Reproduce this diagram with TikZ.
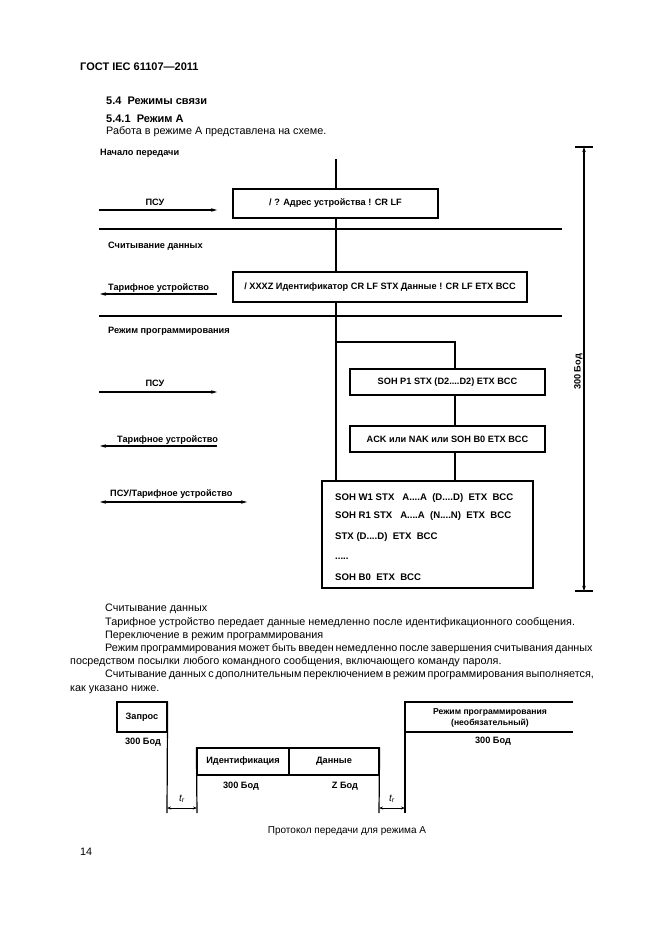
\documentclass[tikz,border=0pt]{standalone}
\usepackage{fontspec}
\setmainfont{Liberation Sans}
\usetikzlibrary{arrows.meta}
\newcommand{\dfont}{\fontsize{9.2}{11}\selectfont\bfseries}
\begin{document}
\begin{tikzpicture}[x=1pt,y=-1pt,
  thick line/.style={line width=1.6pt},
  thin line/.style={line width=1.2pt},
  msgbox/.style={draw,line width=1.6pt,fill=white,inner sep=0pt,font=\dfont},
  lbl/.style={inner sep=0pt,font=\dfont},
  body/.style={inner sep=0pt,anchor=base west,font=\fontsize{10.8}{13}\selectfont},
  head/.style={inner sep=0pt,anchor=base west,font=\fontsize{11}{13}\selectfont\bfseries},
  tip/.style={-{Stealth[length=6pt,width=3.5pt]}},
  tips/.style={{Stealth[length=6pt,width=3.5pt]}-{Stealth[length=6pt,width=3.5pt]}},
  smalltips/.style={{Stealth[length=4pt,width=3pt]}-{Stealth[length=4pt,width=3pt]}},
  tbox/.style={draw,line width=1.2pt,inner sep=0pt,font=\dfont}
]
\useasboundingbox (0,0) rectangle (661,935);

% ---------- header texts ----------
\node[head] (gost) at (80,70) {ГОСТ IEC 61107—2011};
\node[head] (h54) at (106,104) {5.4\ \ Режимы связи};
\node[head] (h541) at (106,122) {5.4.1\ \ Режим А};
\node[body] (intro) at (106,134) {Работа в режиме А представлена на схеме.};
\node[lbl,anchor=base west] (start) at (100,155) {Начало передачи};

% ---------- main structure lines (under the boxes) ----------
\coordinate (top) at (336,159);
\coordinate (branch) at (336,342);
\coordinate (branchR) at (455,342);
\coordinate (b5top) at (336,481);
\coordinate (b5topR) at (455,481);
\draw[thick line] (top) -- (b5top);
\draw[thick line] (branch) -- (branchR) -- (b5topR);

% separators
\coordinate (s1L) at (99,229); \coordinate (s1R) at (562,229);
\coordinate (s2L) at (99,316); \coordinate (s2R) at (562,316);
\draw[thick line] (s1L) -- (s1R);
\draw[thick line] (s2L) -- (s2R);

% ---------- boxes ----------
\node[msgbox,minimum width=205pt,minimum height=29pt] (box1) at (335.5,203.5) {/ ? Адрес устройства ! CR LF};
\node[msgbox,minimum width=294pt,minimum height=30pt] (box2) at (380,287) {/ XXXZ Идентификатор CR LF STX Данные ! CR LF ETX BCC};
\node[msgbox,minimum width=195pt,minimum height=26pt] (box3) at (447.5,382) {SOH P1 STX (D2....D2) ETX BCC};
\node[msgbox,minimum width=195pt,minimum height=26pt] (box4) at (447.5,439) {ACK или NAK или SOH B0 ETX BCC};
\node[msgbox,minimum width=211pt,minimum height=107pt] (box5) at (427.5,534.5) {};
\begin{scope}[every node/.style={inner sep=0pt,anchor=base west,font=\fontsize{9.6}{11}\selectfont\bfseries}]
\node (l1) at (335,500) {SOH W1 STX\ \ \ A....A\ \ (D....D)\ \ ETX\ \ BCC};
\node (l2) at (335,518) {SOH R1 STX\ \ \ A....A\ \ (N....N)\ \ ETX\ \ BCC};
\node (l3) at (335,539) {STX (D....D)\ \ ETX\ \ BCC};
\node (l4) at (335,559) {.....};
\node (l5) at (335,580) {SOH B0\ \ ETX\ \ BCC};
\end{scope}

% ---------- left side arrows ----------
\coordinate (a1s) at (99,210); \coordinate (a1e) at (217,210);
\draw[thick line,tip] (a1s) -- (a1e);
\node[lbl,anchor=base] (psu1) at (155,205) {ПСУ};

\node[lbl,anchor=base west] (read1) at (108,248) {Считывание данных};

\coordinate (a2s) at (217,294); \coordinate (a2e) at (100,294);
\draw[thick line,tip] (a2s) -- (a2e);
\node[lbl,anchor=base west] (tar1) at (108,290) {Тарифное устройство};

\node[lbl,anchor=base west] (prog1) at (108,333) {Режим программирования};

\coordinate (a3s) at (99,392); \coordinate (a3e) at (217,392);
\draw[thick line,tip] (a3s) -- (a3e);
\node[lbl,anchor=base] (psu2) at (155,386) {ПСУ};

\coordinate (a4s) at (217,446); \coordinate (a4e) at (100,446);
\draw[thick line,tip] (a4s) -- (a4e);
\node[lbl,anchor=base west] (tar2) at (117,442) {Тарифное устройство};

\coordinate (a5s) at (100,502); \coordinate (a5e) at (247,502);
\draw[thick line,tips] (a5s) -- (a5e);
\node[lbl,anchor=base west] (both) at (110,496) {ПСУ/Тарифное устройство};

% ---------- 300 Bod vertical ----------
\coordinate (vt) at (584,147); \coordinate (vb) at (584,591);
\draw[thick line,{Stealth[length=5pt,width=3.5pt]}-{Stealth[length=5pt,width=3.5pt]}] (vt) -- (vb);
\draw[thick line] ([xshift=-9pt]vt) -- ([xshift=9pt]vt);
\draw[thick line] ([xshift=-9pt]vb) -- ([xshift=9pt]vb);
\node[lbl,rotate=90,anchor=base] (bod) at (580.5,372) {300 Бод};

% ---------- paragraph ----------
\node[body] (p1) at (105,611.5) {Считывание данных};
\node[body] (p2) at (105,625) {Тарифное устройство передает данные немедленно после идентификационного сообщения.};
\node[body] (p3) at (105,638) {Переключение в режим программирования};
\node[body] (p4) at (105,651) {\makebox[487pt][s]{Режим программирования может быть введен немедленно после завершения считывания данных}};
\node[body] (p5) at (70,664.5) {посредством посылки любого командного сообщения, включающего команду пароля.};
\node[body] (p6) at (105,677.5) {\makebox[487pt][s]{Считывание данных с дополнительным переключением в режим программирования выполняется,}};
\node[body] (p7) at (70,691) {как указано ниже.};

% ---------- protocol diagram ----------
\node[tbox,minimum width=50pt,minimum height=30pt] (req) at (142,717) {Запрос};
\coordinate (reqB) at (167,813);
\draw[thin line] (req.north east) -- (reqB);
\node[lbl,anchor=center] (bodA) at (143,742) {300 Бод};

\node[tbox,minimum width=92pt,minimum height=27pt] (ident) at (243,761.5) {Идентификация};
\node[tbox,minimum width=90pt,minimum height=27pt] (data) at (334,761.5) {Данные};
\coordinate (identB) at (197,813);
\coordinate (dataB) at (379,813);
\draw[thin line] (ident.north west) -- (identB);
\draw[thin line] (data.north east) -- (dataB);
\node[lbl,anchor=center] (bodB) at (241,786) {300 Бод};
\node[lbl,anchor=center] (bodZ) at (345,786) {Z Бод};

\coordinate (pTL) at (405,702); \coordinate (pTR) at (573,702);
\coordinate (pML) at (405,732); \coordinate (pMR) at (573,732);
\coordinate (pB) at (405,813);
\draw[thin line] (pTR) -- (pTL) -- (pB);
\draw[thin line] (pML) -- (pMR);
\node[lbl,anchor=center,align=center,font=\fontsize{8.6}{10.5}\selectfont\bfseries] (progm) at (490,718) {Режим программирования\\(необязательный)};
\node[lbl,anchor=center] (bodC) at (493,741) {300 Бод};

\coordinate (t1a) at (167,808); \coordinate (t1b) at (197,808);
\coordinate (t2a) at (379,808); \coordinate (t2b) at (405,808);
\draw[line width=0.8pt,smalltips] (t1a) -- (t1b);
\draw[line width=0.8pt,smalltips] (t2a) -- (t2b);
\node[lbl,anchor=center,font=\fontsize{10}{11}\selectfont] (tr1) at (182,799) {\itshape t\textsubscript{r}};
\node[lbl,anchor=center,font=\fontsize{10}{11}\selectfont] (tr2) at (392,799) {\itshape t\textsubscript{r}};

\node[lbl,anchor=center,font=\fontsize{10}{12}\selectfont] (cap) at (347,831) {Протокол передачи для режима А};
\node[body] (pg) at (80,855) {14};
\end{tikzpicture}
\end{document}
